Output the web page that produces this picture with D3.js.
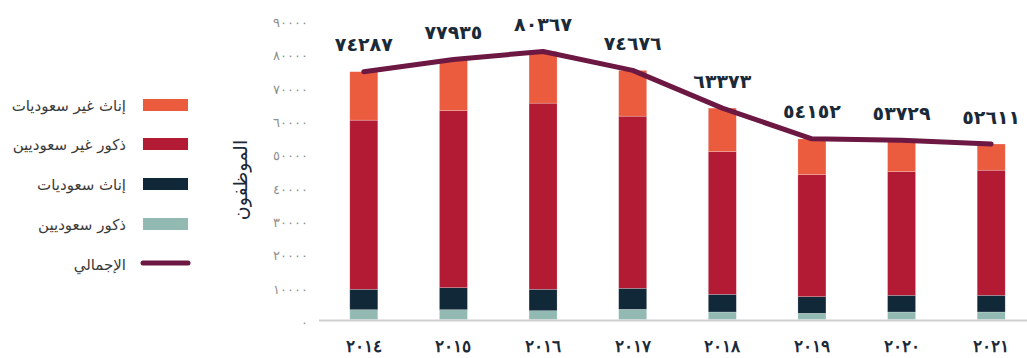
<!DOCTYPE html>
<html lang="ar">
<head>
<meta charset="utf-8">
<script src="https://cdn.jsdelivr.net/npm/d3@7/dist/d3.min.js"></script>
<style>
  html, body { margin: 0; padding: 0; background: #fff; }
  svg { display: block; font-family: "DejaVu Sans", sans-serif; }
</style>
</head>
<body>
<svg id="chart" width="1027" height="358"></svg>
<script>
// Years shown on the x axis
const years = [2014, 2015, 2016, 2017, 2018, 2019, 2020, 2021];

// Employee counts per group (stacked from the bottom up)
const saudiMales      = [2940, 2940, 2640, 3060, 2250, 1860, 2250, 2250];
const saudiFemales    = [6120, 6600, 6420, 6300, 5310, 4980, 5010, 5010];
const nonSaudiMales   = [50700, 53100, 55800, 51600, 42780, 36600, 37080, 37500];
const nonSaudiFemales = [14527, 15295, 15507, 13716, 13033, 10712, 9389, 7851];

// Overall totals (line + value labels)
const totals = [74287, 77935, 80367, 74676, 63373, 54152, 53729, 52611];

// Y axis ticks
const yTicks = [0, 10000, 20000, 30000, 40000, 50000, 60000, 70000, 80000, 90000];

// Legend names
const seriesNames = ["ذكور سعوديين", "إناث سعوديات", "ذكور غير سعوديين", "إناث غير سعوديات"];
const totalName = "الإجمالي";
const yTitle = "الموظفون";

const colors = ["#92bab3", "#112839", "#b21b33", "#eb5b3e"];
const lineColor = "#6c1843";

const arabicDigits = "٠١٢٣٤٥٦٧٨٩";
const toArabic = n => String(n).replace(/[0-9]/g, d => arabicDigits[+d]);

const svg = d3.select("#chart");

const x = d3.scaleBand()
  .domain(years)
  .range([319, 1036])
  .paddingInner(0.6875)
  .paddingOuter(0.34375);

const y = d3.scaleLinear()
  .domain([0, 90000])
  .range([319.5, 19.3]);

// Stack the four groups
const rows = years.map((yr, i) => ({
  year: yr,
  s0: saudiMales[i],
  s1: saudiFemales[i],
  s2: nonSaudiMales[i],
  s3: nonSaudiFemales[i]
}));
const stack = d3.stack().keys(["s0", "s1", "s2", "s3"])(rows);

svg.append("g")
  .selectAll("g")
  .data(stack)
  .join("g")
  .attr("fill", (d, i) => colors[i])
  .selectAll("rect")
  .data(d => d)
  .join("rect")
  .attr("x", d => x(d.data.year))
  .attr("width", x.bandwidth())
  .attr("y", d => y(d[1]))
  .attr("height", d => y(d[0]) - y(d[1]))
  .attr("stroke", "rgba(255,255,255,0.35)")
  .attr("stroke-width", 0.6);

// Baseline
svg.append("line")
  .attr("x1", 319).attr("x2", 1027)
  .attr("y1", 320.5).attr("y2", 320.5)
  .attr("stroke", "#cfcfcf")
  .attr("stroke-width", 2);

// Y axis (labels only)
const yAxis = d3.axisLeft(y)
  .tickValues(yTicks)
  .tickSize(0)
  .tickPadding(0)
  .tickFormat(d => toArabic(d));

const yg = svg.append("g")
  .attr("transform", "translate(308,3)")
  .call(yAxis);
yg.select(".domain").remove();
yg.selectAll("text")
  .attr("fill", "#8f8f8f")
  .attr("font-size", 13)
  .attr("letter-spacing", 4);

// Y axis title
svg.append("text")
  .attr("transform", "translate(241,180) rotate(-90)")
  .attr("text-anchor", "middle")
  .attr("dominant-baseline", "middle")
  .attr("font-size", 19)
  .attr("fill", "#1b2a38")
  .text(yTitle);

// X axis labels
const xAxis = d3.axisBottom(x)
  .tickSize(0)
  .tickPadding(0)
  .tickFormat(d => toArabic(d));
const xg = svg.append("g")
  .attr("transform", "translate(0,340)")
  .call(xAxis);
xg.select(".domain").remove();
xg.selectAll("text")
  .attr("fill", "#1b2a38")
  .attr("font-size", 17)
  .attr("font-weight", "bold");

// Total line
const cx = yr => x(yr) + x.bandwidth() / 2;
const line = d3.line()
  .x((d, i) => cx(years[i]))
  .y(d => y(d));

svg.append("path")
  .datum(totals)
  .attr("d", line)
  .attr("fill", "none")
  .attr("stroke", lineColor)
  .attr("stroke-width", 5)
  .attr("stroke-linecap", "round")
  .attr("stroke-linejoin", "round");

// Value labels above the line
svg.append("g")
  .selectAll("text")
  .data(totals)
  .join("text")
  .attr("x", (d, i) => cx(years[i]))
  .attr("y", d => y(d) - 26)
  .attr("text-anchor", "middle")
  .attr("dominant-baseline", "middle")
  .attr("font-size", 19)
  .attr("font-weight", "bold")
  .attr("fill", "#1b2a38")
  .text(d => toArabic(d));

// Legend
const legendItems = [
  { name: seriesNames[3], color: colors[3], y: 105 },
  { name: seriesNames[2], color: colors[2], y: 144 },
  { name: seriesNames[1], color: colors[1], y: 184 },
  { name: seriesNames[0], color: colors[0], y: 224 }
];
const lg = svg.append("g");
lg.selectAll("rect")
  .data(legendItems)
  .join("rect")
  .attr("x", 143)
  .attr("y", d => d.y - 6)
  .attr("width", 45)
  .attr("height", 12)
  .attr("fill", d => d.color);

lg.selectAll("text.item")
  .data(legendItems)
  .join("text")
  .attr("class", "item")
  .attr("x", 126)
  .attr("y", d => d.y + 1)
  .attr("text-anchor", "end")
  .attr("dominant-baseline", "middle")
  .attr("font-size", 15)
  .attr("fill", "#3a3a3a")
  .text(d => d.name);

lg.append("line")
  .attr("x1", 143).attr("x2", 188)
  .attr("y1", 263).attr("y2", 263)
  .attr("stroke", lineColor)
  .attr("stroke-width", 5)
  .attr("stroke-linecap", "round");

lg.append("text")
  .attr("x", 126)
  .attr("y", 265)
  .attr("text-anchor", "end")
  .attr("dominant-baseline", "middle")
  .attr("font-size", 15)
  .attr("fill", "#3a3a3a")
  .text(totalName);
</script>
</body>
</html>
